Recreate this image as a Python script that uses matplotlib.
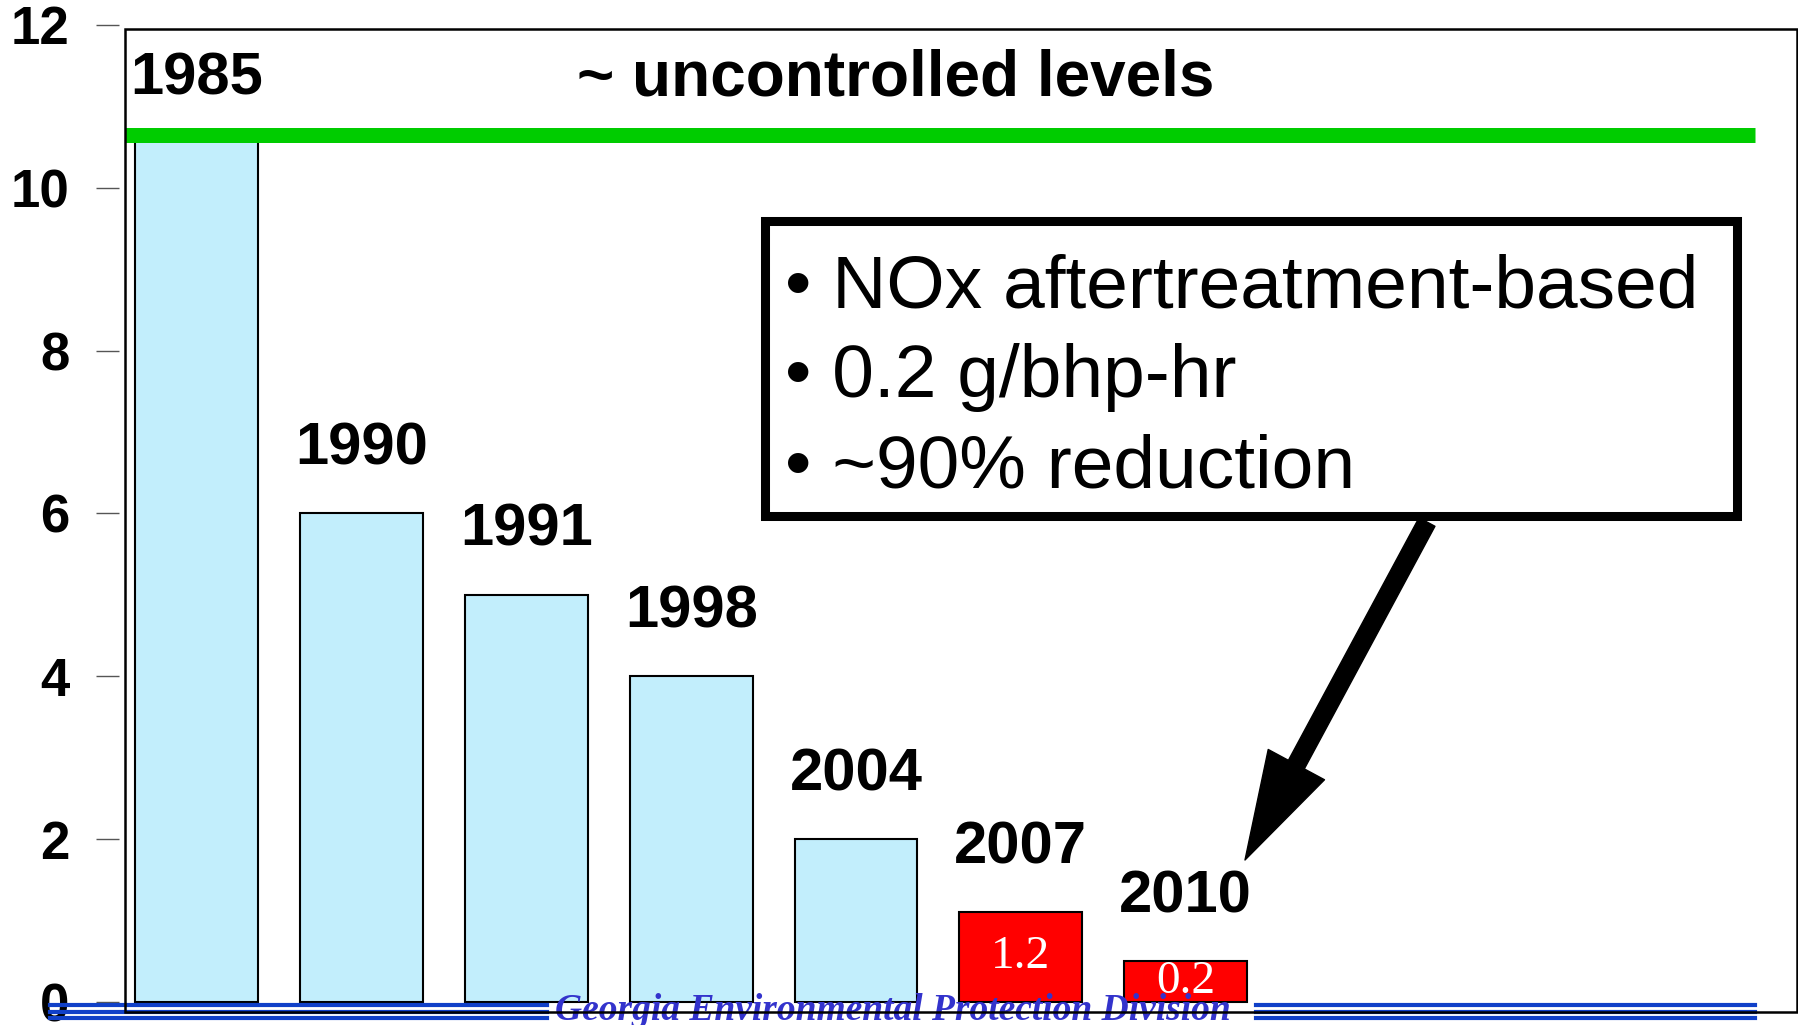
import matplotlib
matplotlib.use('Agg')
import matplotlib.pyplot as plt
import numpy as np
from matplotlib.patches import Rectangle, FancyArrowPatch, ArrowStyle
from matplotlib.lines import Line2D

# data
years = ['1985', '1990', '1991', '1998', '2004', '2007', '2010']
nox = [10.7, 6.0, 5.0, 4.0, 2.0, 1.1, 0.5]   # drawn bar heights, g/bhp-hr
bar_labels = ['', '', '', '', '', '1.2', '0.2']
bar_colors = ['#C2EEFC'] * 5 + ['#FF0000'] * 2
uncontrolled = 10.65
yticks = [0, 2, 4, 6, 8, 10, 12]
notes = ['• NOx aftertreatment-based', '• 0.2 g/bhp-hr', '• ~90% reduction']
footer = 'Georgia Environmental Protection Division'

plt.rcParams['font.family'] = ['Liberation Sans', 'DejaVu Sans']

W, H = 1799, 1025
fig = plt.figure(figsize=(W / 100, H / 100), dpi=100)


def fx(px):
    return px / W


def fy(py):
    return 1 - py / H


# plot area: x=125..1797, y=25..1012 px
ax = fig.add_axes([fx(125), fy(1012), fx(1797) - fx(125), fy(25) - fy(1012)])
x = np.arange(len(years))
ax.bar(x, nox, width=0.745, color=bar_colors, edgecolor='black', linewidth=1.5, zorder=2)
ax.set_xlim(-0.436, 9.71)
ax.set_ylim(-0.123, 12)

for s in ax.spines.values():
    s.set_visible(False)
ax.spines['left'].set_position(('outward', 4.3))
ax.set_xticks([])
ax.set_yticks(yticks)
ax.set_yticklabels([str(t) for t in yticks], fontsize=38, fontweight='bold')
ax.tick_params(axis='y', length=16.5, width=1, color='#555555', pad=19)

# green "uncontrolled" line
ax.axhline(uncontrolled, xmin=0, xmax=0.975, color='#00CC00', linewidth=10.8,
           solid_capstyle='butt', zorder=3)
title_off = 40.5
ax.annotate('~ uncontrolled levels', xy=(0.461, uncontrolled),
            xycoords=('axes fraction', 'data'), xytext=(0, title_off), textcoords='offset points',
            ha='center', va='center', fontsize=46, fontweight='bold', zorder=4)

# year labels above bars (the tallest one sits level with the title), values inside red bars
for xi, h, yr, lab in zip(x, nox, years, bar_labels):
    if h >= uncontrolled:
        xy, off = (xi, uncontrolled), title_off
    else:
        xy, off = (xi, h), 46.5
    ax.annotate(yr, xy=xy, xytext=(0, off), textcoords='offset points',
                ha='center', va='center', fontsize=43, fontweight='bold', zorder=4)
    if lab:
        ax.text(xi, h / 2, lab, ha='center', va='center', color='white',
                fontsize=34, family='Liberation Serif', zorder=4)

# note box
fig.add_artist(Rectangle((fx(765), fy(516)), fx(1737) - fx(765), fy(221) - fy(516),
                         transform=fig.transFigure, facecolor='white', edgecolor='black',
                         linewidth=6.5, zorder=5))
for i, line in enumerate(notes):
    fig.text(fx(785), fy(307 + 90 * i), line, fontsize=54, va='baseline', ha='left', zorder=6)

arrow = FancyArrowPatch((fx(1427), fy(522)), (fx(1245), fy(860)), transform=fig.transFigure,
                        arrowstyle=ArrowStyle.Simple(head_length=78, head_width=46, tail_width=13),
                        mutation_scale=1, shrinkA=0, shrinkB=0, color='black', zorder=4)
fig.add_artist(arrow)

# footer
fig.text(fx(893), fy(993), footer, ha='center', va='top', fontsize=27, color='#3333CC',
         family='Liberation Serif', fontweight='bold', style='italic', zorder=6)
for yy in [1005, 1011.5, 1018]:
    for x0, x1 in [(50, 547), (1256, 1755)]:
        fig.add_artist(Line2D([fx(x0), fx(x1)], [fy(yy), fy(yy)], transform=fig.transFigure,
                              color='#1040C8', linewidth=3, zorder=7))

# plot frame
fig.add_artist(Rectangle((fx(125), fy(1012)), fx(1797) - fx(125), fy(29) - fy(1012),
                         transform=fig.transFigure, fill=False, edgecolor='black',
                         linewidth=1.8, zorder=8))

fig.savefig('out.png', dpi=100)
